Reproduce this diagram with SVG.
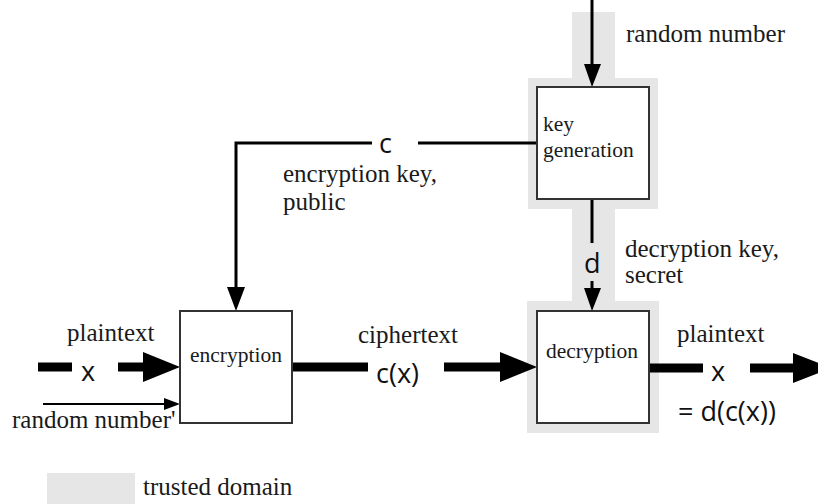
<svg xmlns="http://www.w3.org/2000/svg" width="818" height="504" viewBox="0 0 818 504">
<style>
.lbl{font-family:"Liberation Serif","Times New Roman",serif;font-size:25px;fill:#1a1a1a}
.box-t{font-family:"Liberation Serif","Times New Roman",serif;font-size:21.5px;fill:#1a1a1a}
.sym{font-family:"Open Sans","Liberation Sans",sans-serif;font-size:27px;fill:#111}
.box{fill:#fff;stroke:#333;stroke-width:2}
.thin{stroke:#000;stroke-width:3;fill:none}
.thick{fill:#000}
.trust{fill:#e6e6e6}
</style>
<rect width="818" height="504" fill="#fff"/>
<g id="trusted-domain">
<path class="trust" d="M572,12 H615 V78 H658 V209 H615 V301 H659 V433 H527 V301 H572 V209 H528 V78 H572 Z"/>
</g>
<g id="connectors">
<line class="thin" x1="592" y1="0" x2="592" y2="66"/>
<polygon points="584,64 601,64 592,87" fill="#000"/>
<polyline class="thin" points="372,143 236,143 236,290"/>
<line class="thin" x1="418" y1="143" x2="537" y2="143"/>
<polygon points="227,287 245,287 236,311" fill="#000"/>
<line class="thin" x1="592" y1="199" x2="592" y2="243"/>
<line class="thin" x1="592" y1="281" x2="592" y2="291"/>
<polygon points="584,288 601,288 592,311" fill="#000"/>
<rect class="thick" x="38" y="362.5" width="34" height="9"/>
<rect class="thick" x="118" y="362.5" width="27" height="9"/>
<polygon class="thick" points="143,352 180,367 143,382"/>
<line x1="43" y1="404" x2="168" y2="404" stroke="#000" stroke-width="2"/>
<polygon points="164,398 180,404 164,410" fill="#000"/>
<rect class="thick" x="293" y="362.5" width="75" height="9"/>
<rect class="thick" x="444" y="362.5" width="58" height="9"/>
<polygon class="thick" points="500,352 537,367 500,382"/>
<rect class="thick" x="650" y="363.5" width="53" height="9"/>
<rect class="thick" x="750" y="363.5" width="45" height="9"/>
<polygon class="thick" points="793,353 831,368 793,383"/>
</g>
<g id="key-generation">
<rect class="box" x="537" y="87" width="112" height="112"/>
<text class="box-t" x="543" y="131">key</text>
<text class="box-t" x="543" y="157">generation</text>
</g>
<g id="encryption">
<rect class="box" x="180" y="311" width="112" height="112"/>
<text class="box-t" x="190" y="362">encryption</text>
</g>
<g id="decryption">
<rect class="box" x="537" y="311" width="112" height="112"/>
<text class="box-t" x="546" y="358">decryption</text>
</g>
<g id="labels">
<text class="lbl" x="626" y="42">random number</text>
<text class="sym" x="379" y="153">c</text>
<text class="lbl" x="283" y="182">encryption key,</text>
<text class="lbl" x="283" y="210">public</text>
<text class="sym" x="584" y="273">d</text>
<text class="lbl" x="625" y="257">decryption key,</text>
<text class="lbl" x="625" y="283">secret</text>
<text class="lbl" x="67" y="341">plaintext</text>
<text class="sym" x="81" y="381">x</text>
<text class="lbl" x="12" y="428">random number'</text>
<text class="lbl" x="358" y="343">ciphertext</text>
<text class="sym" x="376" y="383">c(x)</text>
<text class="lbl" x="677" y="342">plaintext</text>
<text class="sym" x="711" y="381">x</text>
<text class="sym" x="678" y="421">= d(c(x))</text>
</g>
<g id="legend">
<rect class="trust" x="47" y="473" width="88" height="31"/>
<text class="lbl" x="143" y="495">trusted domain</text>
</g>
</svg>
